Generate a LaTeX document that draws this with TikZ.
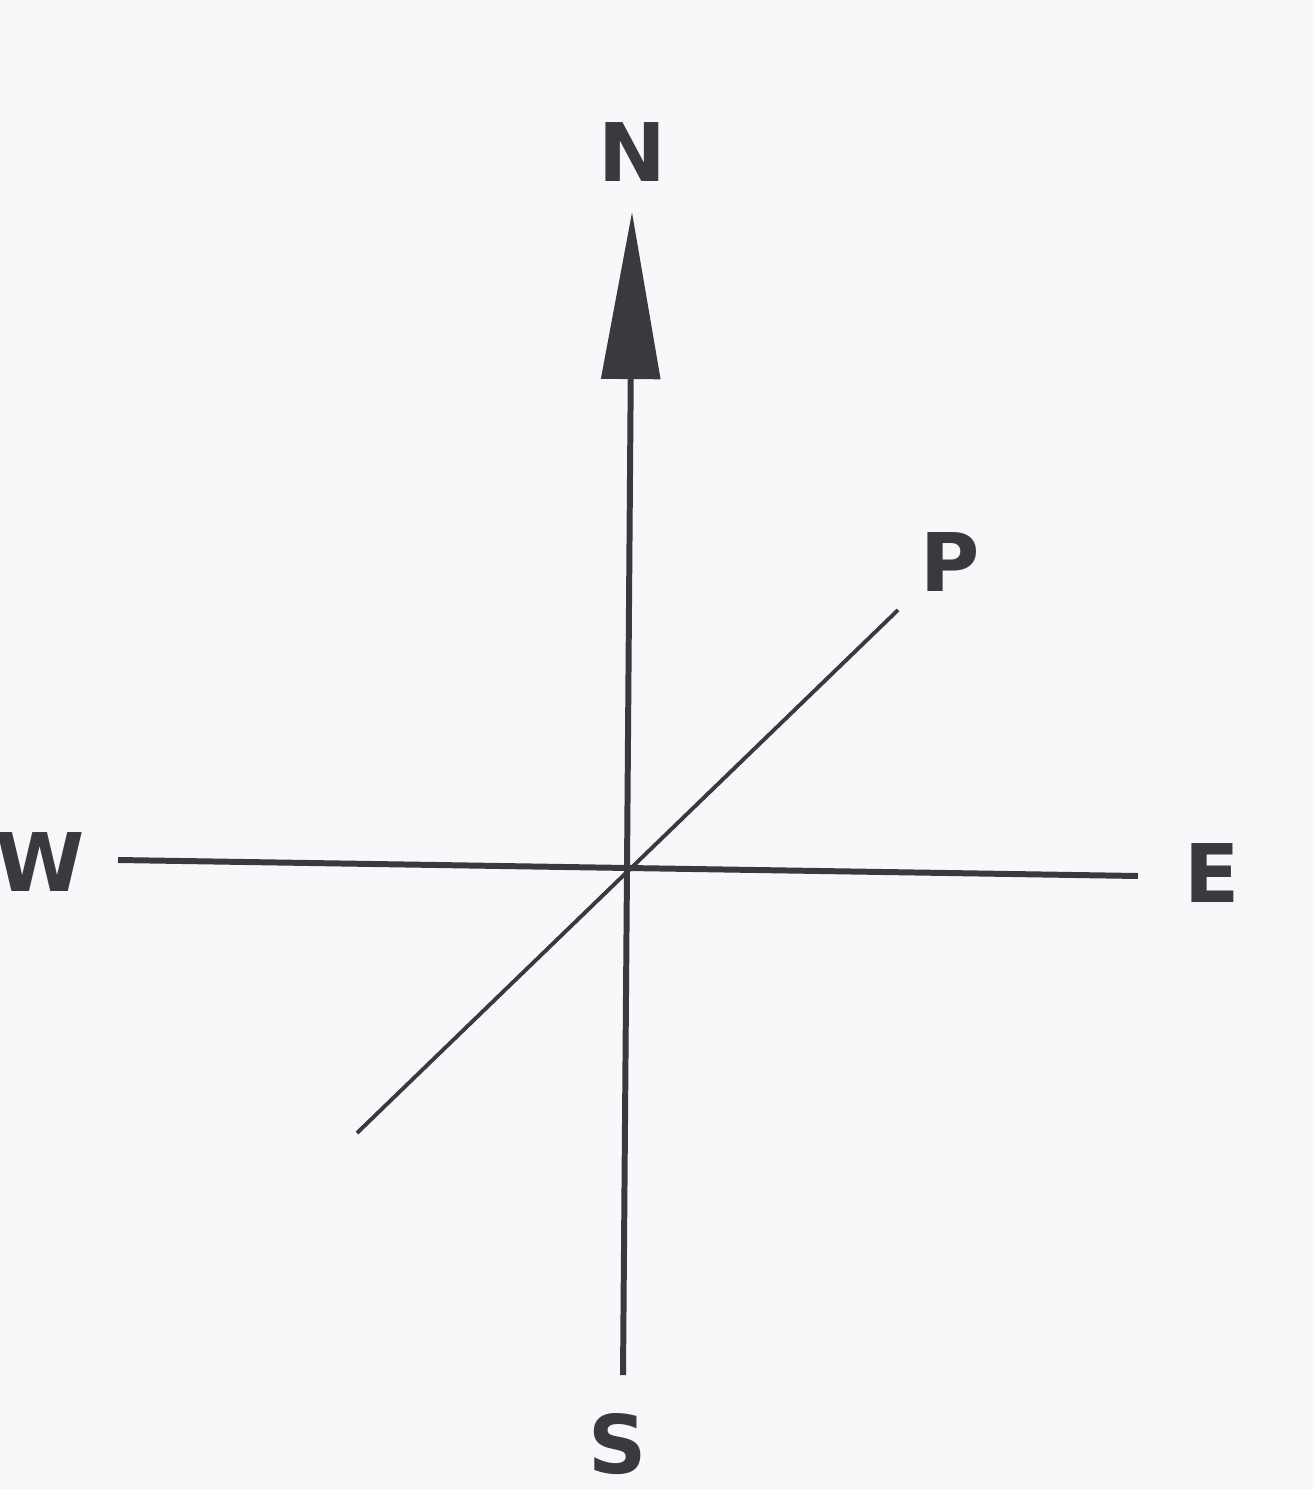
\documentclass[tikz,border=0pt]{standalone}
\usepackage{xcolor}
\usepackage{fontspec}
\setmainfont{DejaVu Sans}
\usetikzlibrary{arrows.meta}
\definecolor{paper}{RGB}{248,248,250}
\definecolor{ink}{RGB}{58,58,62}
\begin{document}
\begin{tikzpicture}[x=0.01cm, y=-0.01cm,
	axis/.style={ink, line width=1.7pt},
	ray/.style={ink, line width=1.1pt},
	letter/.style={ink, font=\fontsize{23}{28}\selectfont\bfseries, inner sep=0pt}]
				\fill[paper] (0,0) rectangle (1313,1489);
				\useasboundingbox (0,0) rectangle (1313,1489);
				
				\coordinate (O) at (627,868);
				\coordinate (Ntip) at (632,212);
				\coordinate (Send) at (623,1375);
				\coordinate (Wend) at (118,860);
				\coordinate (Eend) at (1138,876);
				\coordinate (Pstart) at (357,1133);
				\coordinate (Pend) at (898,610);
				
				\draw[axis, -{Triangle[length=1.67cm, width=0.58cm]}] (O) -- (Ntip);
				\draw[axis] (O) -- (Send);
				\draw[axis] (Wend) -- (Eend);
				\draw[ray] (Pstart) -- (Pend);
				
				\node[letter] (N) at (632,152) {N};
				\node[letter] (S) at (618,1444) {S};
				\node[letter] (W) at (40,862) {W};
				\node[letter] (E) at (1212,873) {E};
				\node[letter] (P) at (950,562) {P};
			\end{tikzpicture}
\end{document}
